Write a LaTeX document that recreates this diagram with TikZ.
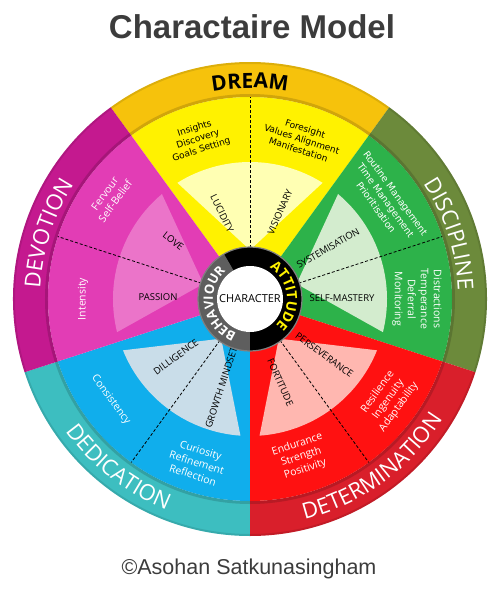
\documentclass[tikz,border=0pt]{standalone}
\usepackage{fontspec}
\newfontfamily\osf{Open Sans}
\newfontfamily\dvf{DejaVu Sans}
\newfontfamily\lsf{Liberation Sans}
\usetikzlibrary{decorations.text}
\definecolor{dreamB}{HTML}{F6C20C}
\definecolor{dreamM}{HTML}{FFF200}
\definecolor{dreamL}{HTML}{FFFFB3}
\definecolor{discB}{HTML}{6C8A3B}
\definecolor{discM}{HTML}{2DB24A}
\definecolor{discL}{HTML}{D3ECCE}
\definecolor{detB}{HTML}{D91F2B}
\definecolor{detM}{HTML}{FF1111}
\definecolor{detL}{HTML}{FFB7B0}
\definecolor{dedB}{HTML}{3DBEC0}
\definecolor{dedM}{HTML}{10AEEC}
\definecolor{dedL}{HTML}{C9DDE9}
\definecolor{devB}{HTML}{C4198F}
\definecolor{devM}{HTML}{E23DB5}
\definecolor{devL}{HTML}{EB74C9}
\definecolor{titlegray}{HTML}{3C3C3C}
\definecolor{attyellow}{HTML}{FFF200}
\definecolor{ringgray}{HTML}{5E5E5E}
\begin{document}
\begin{tikzpicture}[x=1pt,y=1pt,
  midtext/.style={font=\dvf\fontsize{9}{11}\selectfont, align=center, inner sep=0},
  wtext/.style={font=\osf\fontsize{10.5}{13}\selectfont, align=center, text=white, inner sep=0},
  wvtext/.style={font=\dvf\fontsize{9.5}{12}\selectfont, align=center, text=white, inner sep=0},
  lbl/.style={font=\osf\fontsize{9.5}{9.5}\selectfont, inner sep=0},
  divline/.style={dash pattern=on 3pt off 2pt, line width=0.8pt},
  ]
\useasboundingbox (-250,-293) rectangle (249,299);
% sectors
\foreach \b/\cb/\cm/\cl in {90/dreamB/dreamM/dreamL, 18/discB/discM/discL, -54/detB/detM/detL, -126/dedB/dedM/dedL, 162/devB/devM/devL}{
  \pgfmathsetmacro\sa{\b-36}
  \pgfmathsetmacro\ea{\b+36}
  \pgfmathsetmacro\ka{\b-32}
  \pgfmathsetmacro\kb{\b+32}
  \fill[\cb] (\sa:237) arc[start angle=\sa, end angle=\ea, radius=237] -- (\ea:202) arc[start angle=\ea, end angle=\sa, radius=202] -- cycle;
  \fill[\cm] (0,0) -- (\sa:202) arc[start angle=\sa, end angle=\ea, radius=202] -- cycle;
  \fill[\cl] (\b:49) -- (\ka:137) arc[start angle=\ka, end angle=\kb, radius=137] -- cycle;
  \draw[divline] (\b:51) -- (\b:202);
}
\draw[black, opacity=0.15, line width=3] (0,0) circle[radius=203.5];
\draw[black, opacity=0.10, line width=2] (0,0) circle[radius=236];
% band labels
\path[decorate, decoration={text along path, text align=center, text={|\osf\bfseries\fontsize{21}{21}\selectfont|DREAM}}] (115:211) arc[start angle=115, end angle=65, radius=211];
\path[decorate, decoration={text along path, text align=center, text color=white, text={|\osf\fontsize{22}{22}\selectfont|DISCIPLINE}}] (54:208) arc[start angle=54, end angle=-18, radius=208];
\path[decorate, decoration={text along path, text align=center, text color=white, text={|\osf\fontsize{22}{22}\selectfont|DEVOTION}}] (198:210) arc[start angle=198, end angle=126, radius=210];
\path[decorate, decoration={text along path, text align=center, text color=white, text={|\osf\fontsize{22}{22}\selectfont|DEDICATION}}] (196:227) arc[start angle=196, end angle=268, radius=227];
\path[decorate, decoration={text along path, text align=center, text color=white, text={|\osf\fontsize{22}{22}\selectfont|DETERMINATION}}] (-94:227) arc[start angle=-94, end angle=-14, radius=227];
% middle texts
\node[midtext, rotate=18] (tdreamA) at (108:168) {Insights\\Discovery\\Goals Setting};
\node[midtext, rotate=-18] (tdreamB) at (72:168) {Foresight\\Values Alignment\\Manifestation};
\node[wvtext, rotate=-54] (tdiscA) at (36:168) {Routine Management\\Time Management\\Prioritisation};
\node[wtext, rotate=-90] (tdiscB) at (0:167) {Distractions\\Temperance\\Deferral\\Monitoring};
\node[wtext, rotate=54] (tdetA) at (-36:171) {Resilience\\Ingenuity\\Adaptability};
\node[wtext, rotate=18] (tdetB) at (-72:166) {Endurance\\Strength\\Positivity};
\node[wtext, rotate=-18] (tdedA) at (252:172) {Curiosity\\Refinement\\Reflection};
\node[wtext, rotate=-54] (tdedB) at (216:172) {Consistency};
\node[wtext, rotate=54] (tdevA) at (144:173) {Fervour\\Self-Belief};
\node[wtext, rotate=90] (tdevB) at (180:167) {Intensity};
% inner labels
\node[lbl, rotate=-64] (luc) at (108:90) {LUCIDITY};
\node[lbl, rotate=66] (vis) at (71:92) {VISIONARY};
\node[lbl, rotate=30] (sys) at (33:93) {SYSTEMISATION};
\node[lbl] (selfm) at (92,1) {SELF-MASTERY};
\node[lbl, rotate=-36] (pers) at (-37:93) {PERSEVERANCE};
\node[lbl, rotate=-66] (fort) at (-70:89) {FORTITUDE};
\node[lbl, rotate=72] (grow) at (252:93) {GROWTH MINDSET};
\node[lbl, rotate=36] (dil) at (218:94) {DILLIGENCE};
\node[lbl] (pas) at (-92,2) {PASSION};
\node[lbl, rotate=-38] (love) at (143:96) {LOVE};
% centre ring
\fill[black] (0,0) circle[radius=52];
\fill[ringgray] (120:52) arc[start angle=120, end angle=270, radius=52] -- (270:33) arc[start angle=270, end angle=120, radius=33] -- cycle;
\draw[gray, line width=1.2] (0,0) circle[radius=52];
\fill[white] (0,0) circle[radius=33];
\node[font=\osf\fontsize{11}{11}\selectfont, inner sep=0] (core) at (0,0) {CHARACTER};
\path[decorate, decoration={text along path, text align=center, text color=attyellow, text={|\osf\bfseries\fontsize{14}{14}\selectfont|ATTITUDE}}] (84:37) arc[start angle=84, end angle=-72, radius=37];
\path[decorate, decoration={text along path, text align=center, text color=white, text={|\osf\bfseries\fontsize{13}{13}\selectfont|BEHAVIOUR}}] (272:37) arc[start angle=272, end angle=108, radius=37];
% title and credit
\node[font=\lsf\bfseries\fontsize{33}{33}\selectfont, text=titlegray, anchor=base, inner sep=0] (title) at (2,260) {Charactaire Model};
\node[font=\lsf\fontsize{21.5}{21.5}\selectfont, text=titlegray, anchor=base, inner sep=0] (credit) at (-1,-275) {©Asohan Satkunasingham};
\end{tikzpicture}
\end{document}
